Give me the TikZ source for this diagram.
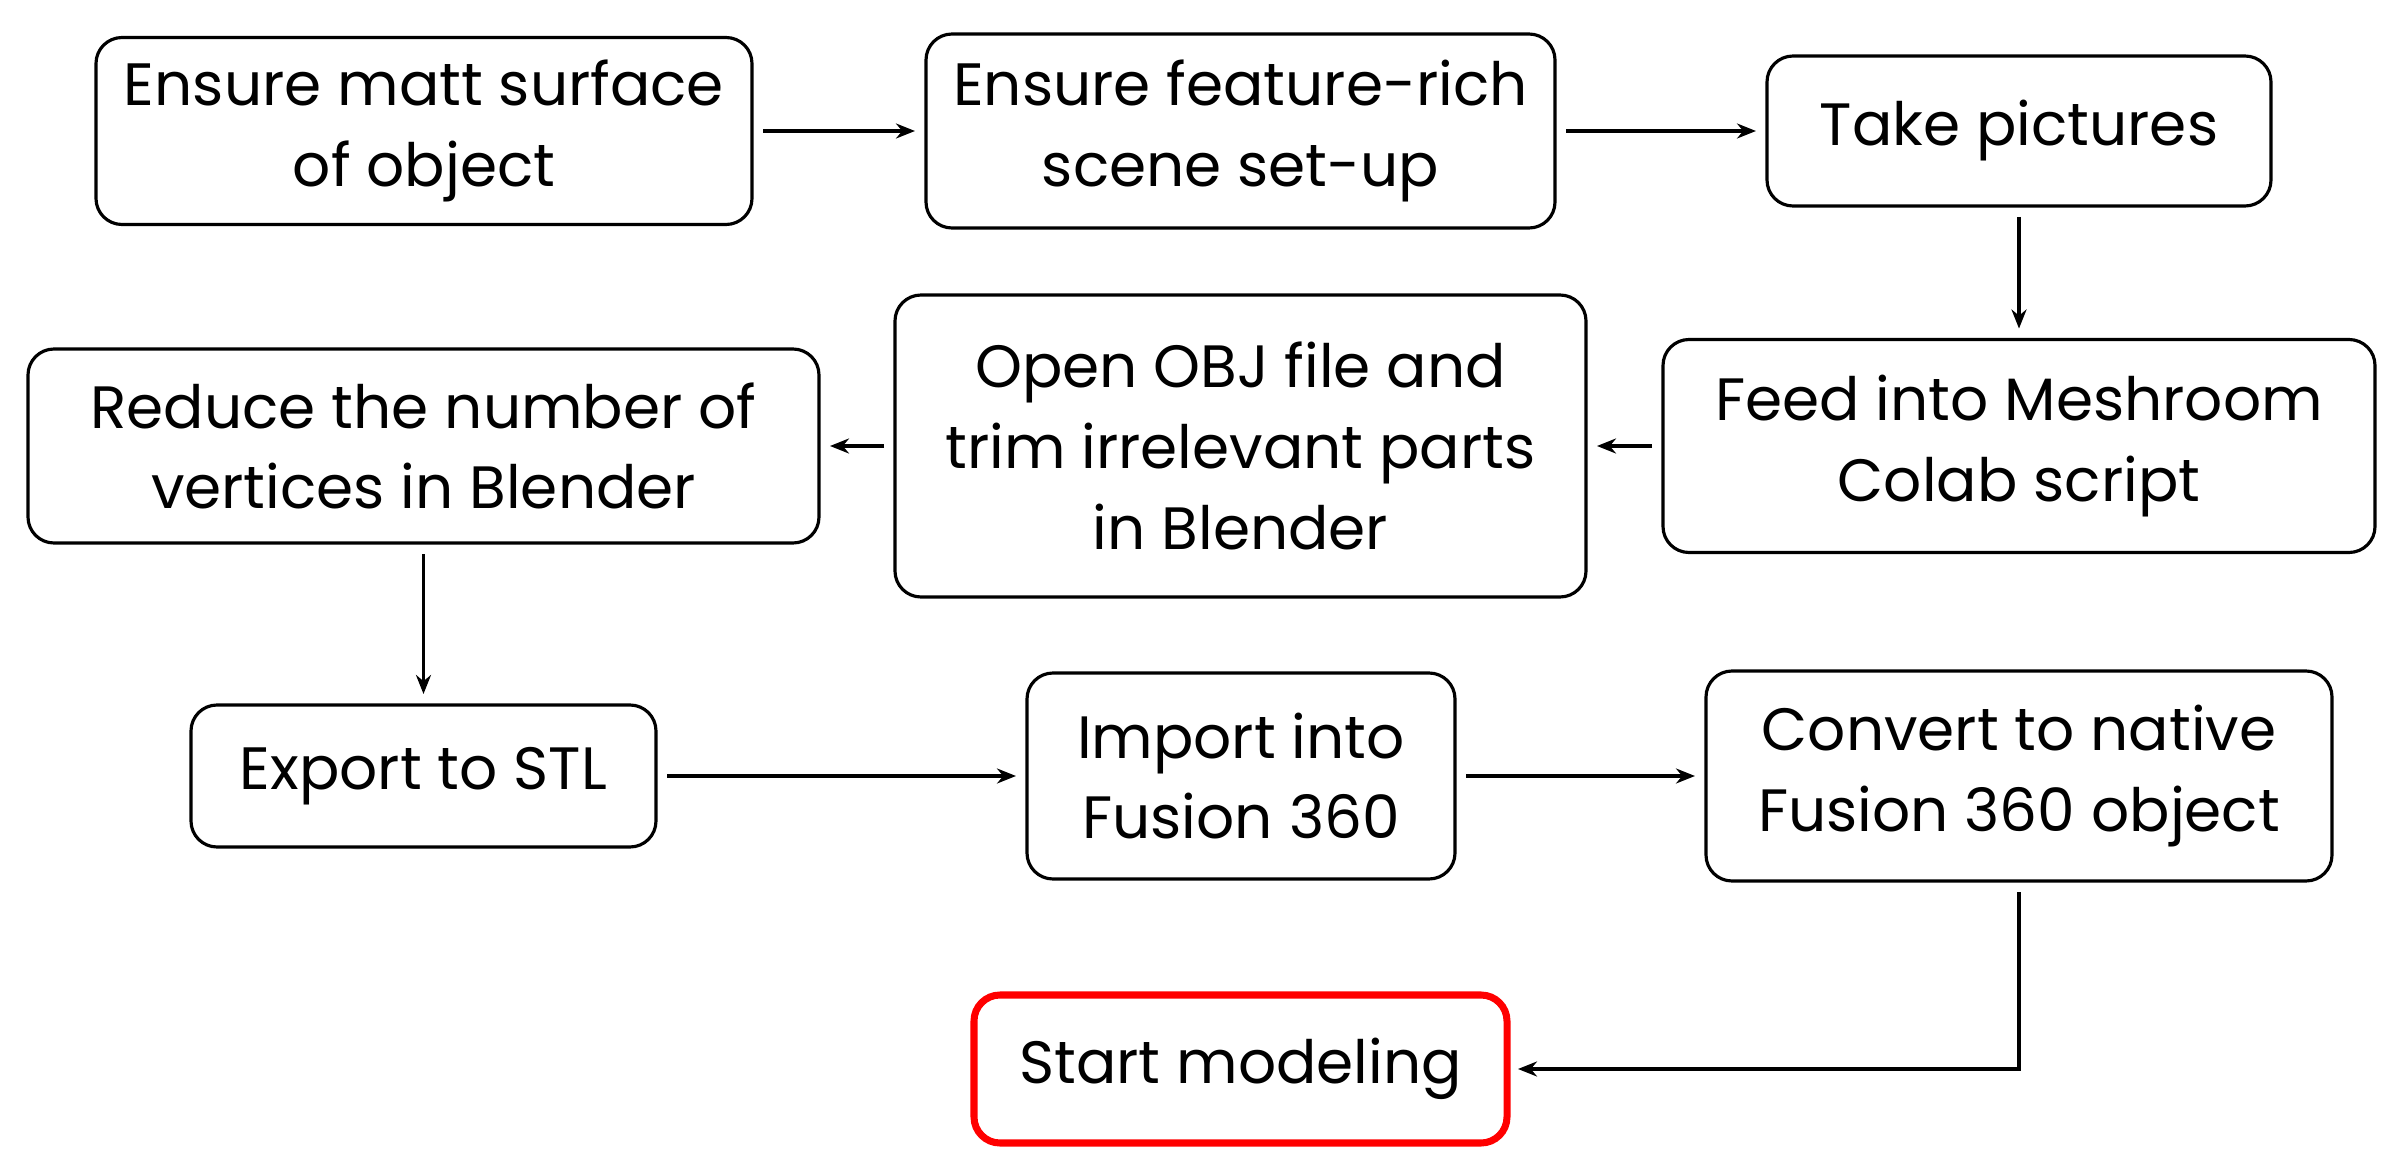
\documentclass[tikz,border=0pt]{standalone}
\usepackage{fontspec}
\setmainfont{Poppins}
\usepackage{tikz}
\usetikzlibrary{arrows.meta}
\definecolor{Rj}{RGB}{255, 0, 0}

\tikzset{
   paso/.style={draw, line width=0.9pt, rounded corners=0.26cm, align=center,
      outer sep=0.11cm, font=\fontsize{17}{23}\selectfont},
   flecha/.style={line width=0.9pt, -{Stealth[length=0.19cm, width=0.15cm]}}
}

\begin{document}
\begin{tikzpicture}
   \useasboundingbox (0,0) rectangle (24.04,-11.75);

   %Primera fila
   \node[paso, minimum width=6.56cm, minimum height=1.87cm] (mate) at (4.24,-1.31) {Ensure matt surface\\of object};
   \node[paso, minimum width=6.29cm, minimum height=1.94cm] (escena) at (12.405,-1.31) {Ensure feature-rich\\scene set-up};
   \node[paso, minimum width=5.04cm, minimum height=1.50cm] (fotos) at (20.19,-1.31) {Take pictures};

   %Segunda fila (de derecha a izquierda)
   \node[paso, minimum width=7.12cm, minimum height=2.13cm] (meshroom) at (20.19,-4.46) {Feed into Meshroom\\Colab script};
   \node[paso, minimum width=6.91cm, minimum height=3.02cm] (recorte) at (12.405,-4.46) {Open OBJ file and\\trim irrelevant parts\\in Blender};
   \node[paso, minimum width=7.91cm, minimum height=1.94cm] (reducir) at (4.235,-4.46) {Reduce the number of\\vertices in Blender};

   %Tercera fila
   \node[paso, minimum width=4.65cm, minimum height=1.42cm] (stl) at (4.235,-7.76) {Export to STL};
   \node[paso, minimum width=4.28cm, minimum height=2.06cm] (importar) at (12.41,-7.76) {Import into\\Fusion 360};
   \node[paso, minimum width=6.26cm, minimum height=2.10cm] (convertir) at (20.19,-7.76) {Convert to native\\Fusion 360 object};

   %Ultimo paso, borde rojo
   \node[paso, draw=Rj, line width=2pt, minimum width=5.33cm, minimum height=1.48cm] (modelar) at (12.405,-10.69) {Start modeling};

   %Flechas entre pasos
   \draw[flecha] (mate) -- (escena);
   \draw[flecha] (escena) -- (fotos);
   \draw[flecha] (fotos) -- (meshroom);
   \draw[flecha] (meshroom) -- (recorte);
   \draw[flecha] (recorte) -- (reducir);
   \draw[flecha] (reducir) -- (stl);
   \draw[flecha] (stl) -- (importar);
   \draw[flecha] (importar) -- (convertir);
   \draw[flecha] (convertir.south) |- (modelar.east);
\end{tikzpicture}
\end{document}
